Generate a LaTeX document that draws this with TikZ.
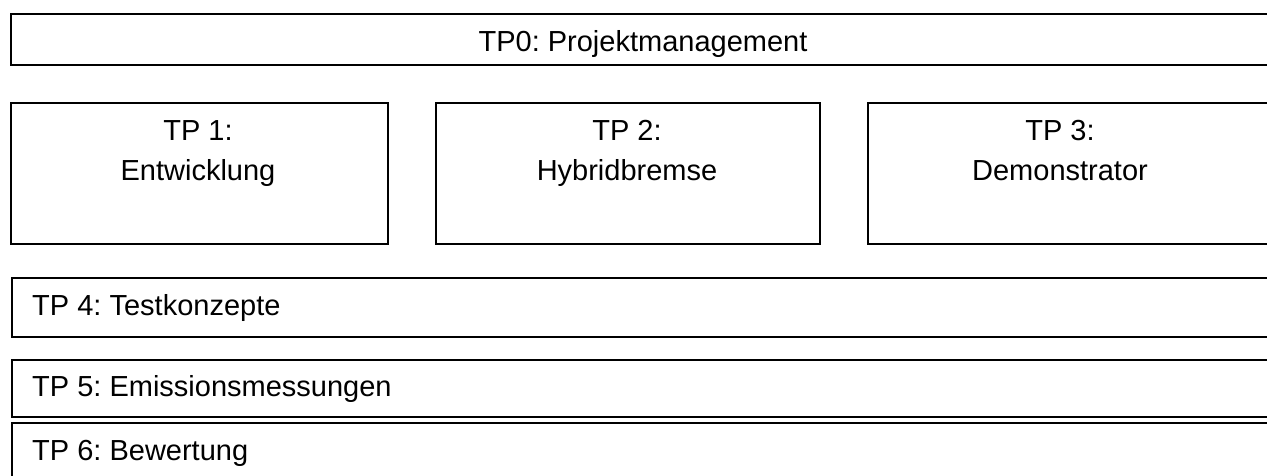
\documentclass[tikz,border=0pt]{standalone}
\usepackage{fontspec}
\setmainfont{Liberation Sans}
\frenchspacing

\begin{document}
\begin{tikzpicture}[x=1pt,y=-1pt]
	 \tikzstyle{tpbox}=[draw,line width=2pt,rectangle,anchor=north west,inner sep=0pt]
	 \tikzstyle{tptext}=[inner sep=0pt,anchor=base,align=center,font=\fontsize{29}{40}\selectfont]
	 \useasboundingbox (0,0) rectangle (1267,475);

	 \node[tpbox,minimum width=1275pt,minimum height=51.5pt] (tp0) at (9.5,12.5) {};
	 \node[tpbox,minimum width=377pt,minimum height=141pt] (tp1) at (9.5,101.5) {};
	 \node[tpbox,minimum width=384pt,minimum height=141pt] (tp2) at (435,101.5) {};
	 \node[tpbox,minimum width=420pt,minimum height=141pt] (tp3) at (867,101.5) {};
	 \node[tpbox,minimum width=1275pt,minimum height=59pt] (tp4) at (10.5,277) {};
	 \node[tpbox,minimum width=1275pt,minimum height=57pt] (tp5) at (10.5,359) {};
	 \node[tpbox,minimum width=1275pt,minimum height=70pt] (tp6) at (10.5,421.5) {};

	 \node[tptext] (tp0t) at (643,51) {TP0: Projektmanagement};
	 \node[tptext] (tp1t) at (198,180) {TP 1:\\Entwicklung};
	 \node[tptext] (tp2t) at (627,180) {TP 2:\\Hybridbremse};
	 \node[tptext] (tp3t) at (1060,180) {TP 3:\\Demonstrator};
	 \node[tptext,anchor=base west] (tp4t) at (32,315) {TP 4: Testkonzepte};
	 \node[tptext,anchor=base west] (tp5t) at (32,396.5) {TP 5: Emissionsmessungen};
	 \node[tptext,anchor=base west] (tp6t) at (32,460) {TP 6: Bewertung};
	 %\node[] at (633,-20) {Arbeitspakete};
\end{tikzpicture}
\end{document}
